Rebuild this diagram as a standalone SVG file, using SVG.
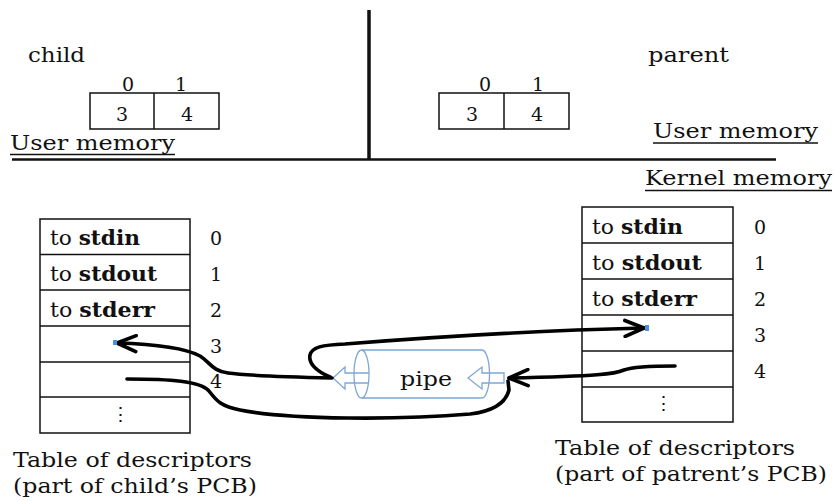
<svg xmlns="http://www.w3.org/2000/svg" width="834" height="501" viewBox="0 0 834 501">
  <style>
    text { font-family: "DejaVu Serif", "Liberation Serif", serif; fill: #111; font-size: 20px; }
    .num { text-anchor: middle; font-size: 19px; }
    .b { font-weight: bold; }
    .box { fill: #fff; stroke: #111; stroke-width: 1.5; }
    .rule { stroke: #111; fill: none; stroke-width: 1.5; }
    .heavy { stroke: #111; fill: none; }
    .link { fill: none; stroke: #000; stroke-width: 3.6; stroke-linecap: round; stroke-linejoin: round; }
    .pipe { fill: none; stroke: #7fa7d6; stroke-width: 1.3; }
    .dot { fill: #4a90e2; }
  </style>
  <defs>
    <marker id="head" viewBox="0 0 24 20" refX="21" refY="10" markerWidth="24" markerHeight="20" markerUnits="userSpaceOnUse" orient="auto">
      <path d="M2,2 L21,10 L2,18" fill="none" stroke="#000" stroke-width="3.6" stroke-linecap="round" stroke-linejoin="round"/>
    </marker>
  </defs>

  <!-- process split and user/kernel boundary -->
  <line class="heavy" x1="369" y1="10" x2="369" y2="160" stroke-width="3.5"/>
  <line class="heavy" x1="12" y1="159.5" x2="776" y2="159.5" stroke-width="2.5"/>

  <!-- child user memory -->
  <g id="child-user">
    <text x="28" y="62" textLength="57" lengthAdjust="spacingAndGlyphs">child</text>
    <text class="num" x="128" y="91">0</text>
    <text class="num" x="181" y="91">1</text>
    <rect class="box" x="90" y="93" width="129" height="36"/>
    <line class="rule" x1="154" y1="93" x2="154" y2="129"/>
    <text class="num" x="122" y="121">3</text>
    <text class="num" x="187" y="121">4</text>
    <text x="10" y="150" textLength="165" lengthAdjust="spacingAndGlyphs">User memory</text>
    <line class="rule" x1="10" y1="154.5" x2="175" y2="154.5"/>
  </g>

  <!-- parent user memory -->
  <g id="parent-user">
    <text x="648" y="62" textLength="81" lengthAdjust="spacingAndGlyphs">parent</text>
    <text class="num" x="485" y="91">0</text>
    <text class="num" x="538" y="91">1</text>
    <rect class="box" x="439" y="93" width="130" height="36"/>
    <line class="rule" x1="504" y1="93" x2="504" y2="129"/>
    <text class="num" x="472" y="121">3</text>
    <text class="num" x="537" y="121">4</text>
    <text x="653" y="138" textLength="165" lengthAdjust="spacingAndGlyphs">User memory</text>
    <line class="rule" x1="653" y1="143" x2="818" y2="143"/>
    <text x="645" y="185" textLength="187" lengthAdjust="spacingAndGlyphs">Kernel memory</text>
    <line class="rule" x1="645" y1="190.5" x2="832" y2="190.5"/>
  </g>

  <!-- child descriptor table -->
  <g id="child-table">
    <rect class="box" x="40" y="219" width="150" height="214"/>
    <line class="rule" x1="40" y1="254.5" x2="190" y2="254.5"/>
    <line class="rule" x1="40" y1="290" x2="190" y2="290"/>
    <line class="rule" x1="40" y1="326" x2="190" y2="326"/>
    <line class="rule" x1="40" y1="362" x2="190" y2="362"/>
    <line class="rule" x1="40" y1="397" x2="190" y2="397"/>
    <text x="50" y="245" textLength="90" lengthAdjust="spacingAndGlyphs">to <tspan class="b">stdin</tspan></text>
    <text x="50" y="281" textLength="107" lengthAdjust="spacingAndGlyphs">to <tspan class="b">stdout</tspan></text>
    <text x="50" y="317" textLength="105" lengthAdjust="spacingAndGlyphs">to <tspan class="b">stderr</tspan></text>
    <text class="num" x="120" y="421">⋮</text>
    <text class="num" x="216" y="245">0</text>
    <text class="num" x="216" y="281">1</text>
    <text class="num" x="216" y="317">2</text>
    <text class="num" x="216" y="353">3</text>
    <text class="num" x="216" y="388">4</text>
    <text x="13" y="467" font-size="21" textLength="239" lengthAdjust="spacingAndGlyphs">Table of descriptors</text>
    <text x="13" y="493" font-size="21" textLength="244" lengthAdjust="spacingAndGlyphs">(part of child’s PCB)</text>
  </g>

  <!-- parent descriptor table -->
  <g id="parent-table">
    <rect class="box" x="582" y="207" width="151" height="215"/>
    <line class="rule" x1="582" y1="243" x2="733" y2="243"/>
    <line class="rule" x1="582" y1="279" x2="733" y2="279"/>
    <line class="rule" x1="582" y1="315" x2="733" y2="315"/>
    <line class="rule" x1="582" y1="351" x2="733" y2="351"/>
    <line class="rule" x1="582" y1="387" x2="733" y2="387"/>
    <text x="592" y="234" textLength="91" lengthAdjust="spacingAndGlyphs">to <tspan class="b">stdin</tspan></text>
    <text x="592" y="270" textLength="110" lengthAdjust="spacingAndGlyphs">to <tspan class="b">stdout</tspan></text>
    <text x="592" y="306" textLength="105" lengthAdjust="spacingAndGlyphs">to <tspan class="b">stderr</tspan></text>
    <text class="num" x="663" y="410">⋮</text>
    <text class="num" x="760" y="234">0</text>
    <text class="num" x="760" y="270">1</text>
    <text class="num" x="760" y="306">2</text>
    <text class="num" x="760" y="342">3</text>
    <text class="num" x="760" y="378">4</text>
    <text x="555" y="455" font-size="21" textLength="240" lengthAdjust="spacingAndGlyphs">Table of descriptors</text>
    <text x="555" y="481" font-size="21" textLength="272" lengthAdjust="spacingAndGlyphs">(part of patrent’s PCB)</text>
  </g>

  <!-- pipe -->
  <g id="pipe">
    <path class="pipe" d="M362,350 L482,350 A7.5,24 0 0 1 482,398 L362,398"/>
    <ellipse class="pipe" cx="361.5" cy="374" rx="7.5" ry="24"/>
    <!-- outflow arrow on the read end -->
    <path class="pipe" d="M369,373 L345,373 L345,367 L333,378 L345,389 L345,383 L369,383"/>
    <!-- inflow arrow on the write end -->
    <path class="pipe" d="M504,373 L482,373 L482,367 L468,378 L482,389 L482,383 L504,383 Z"/>
    <text x="400" y="386" font-size="22" textLength="52" lengthAdjust="spacingAndGlyphs">pipe</text>
  </g>

  <!-- descriptor links -->
  <g id="links">
    <path class="link" d="M332,378 C290,377 250,376 228,373 C212,371 210,362 200,356 C185,348 150,344 117,343" marker-end="url(#head)"/>
    <path class="link" d="M330,377 C318,372 308,364 310,355 C312,347 322,345 345,344 C420,338 520,331 644,328" marker-end="url(#head)"/>
    <path class="link" d="M675,366 C650,366 632,367 624,370 C615,374 600,376 509,378" marker-end="url(#head)"/>
    <path class="link" d="M127,379 C170,379 200,381 209,391 C216,400 220,406 240,410 C290,420 400,420 470,414 C495,411 506,402 509,390 L508,381"/>
    <rect class="dot" x="113" y="340" width="4" height="5"/>
    <rect class="dot" x="645" y="325" width="4" height="6"/>
  </g>
</svg>
